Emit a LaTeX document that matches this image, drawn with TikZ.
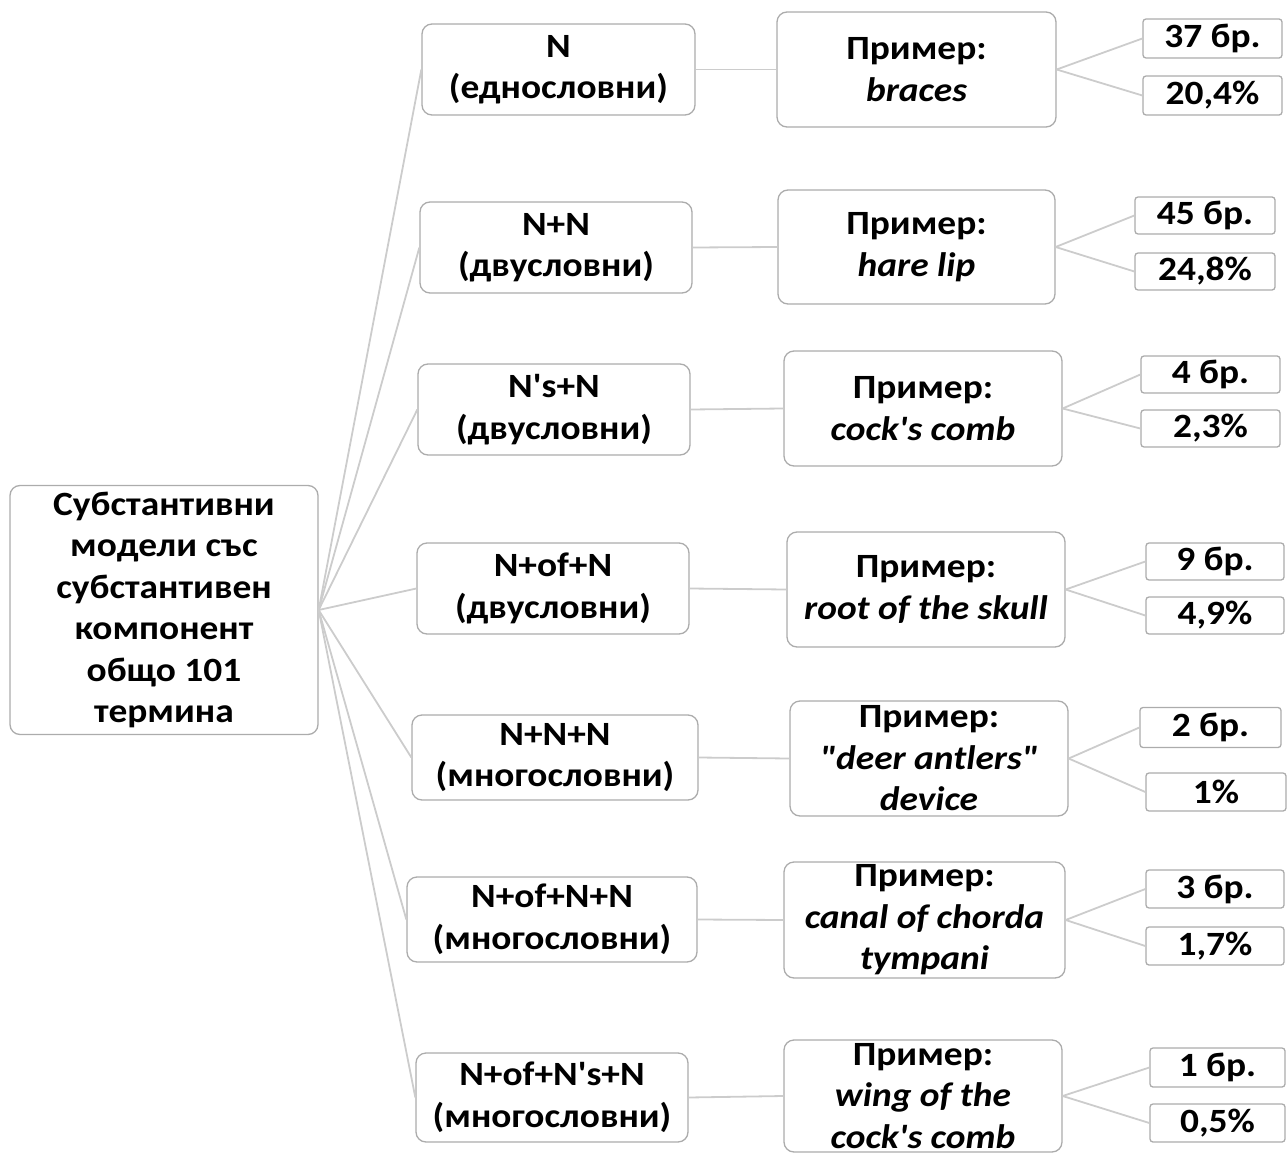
\documentclass[tikz,border=0pt]{standalone}
\usepackage{fontspec}
\setmainfont{Carlito}[Ligatures=TeXOff, FakeStretch=1.1]
\begin{document}
\begin{tikzpicture}[x=1pt,y=-1pt,
  every node/.style={font=\bfseries\fontsize{34}{41.5}\selectfont, align=center, inner sep=0pt, text=black},
  bigbox/.style={draw=gray!65, line width=1.3pt, rounded corners=10pt, fill=white},
  numbox/.style={draw=gray!65, line width=1.3pt, rounded corners=3pt, fill=white},
  link/.style={draw=gray!40, line width=1.8pt}]
\useasboundingbox (0,0) rectangle (1288,1153);
\begin{scope}
\clip (0,0) rectangle (1288,1153);
% root
\node[bigbox, minimum width=308pt, minimum height=249pt] (root) at (164,610) {Субстантивни\\модели със\\субстантивен\\компонент\\общо 101\\термина};
% level 1
\node[bigbox, minimum width=273pt, minimum height=91pt] (a1) at (558.5,69.5) {N\\(еднословни)};
\node[bigbox, minimum width=272pt, minimum height=91pt] (a2) at (556,247.5) {N+N\\(двусловни)};
\node[bigbox, minimum width=272pt, minimum height=91pt] (a3) at (554,409.5) {N's+N\\(двусловни)};
\node[bigbox, minimum width=272pt, minimum height=91pt] (a4) at (553,588.5) {N+of+N\\(двусловни)};
\node[bigbox, minimum width=286pt, minimum height=85pt] (a5) at (555,757.5) {N+N+N\\(многословни)};
\node[bigbox, minimum width=290pt, minimum height=85pt] (a6) at (552,919.5) {N+of+N+N\\(многословни)};
\node[bigbox, minimum width=272pt, minimum height=89pt] (a7) at (552,1097.5) {N+of+N's+N\\(многословни)};
% level 2
\node[bigbox, minimum width=279pt, minimum height=115pt] (b1) at (916.5,69.5) {Пример:\\\itshape braces};
\node[bigbox, minimum width=277pt, minimum height=114pt] (b2) at (916.5,247) {Пример:\\\itshape hare lip};
\node[bigbox, minimum width=278pt, minimum height=115pt] (b3) at (923,408.5) {Пример:\\\itshape cock's comb};
\node[bigbox, minimum width=278pt, minimum height=115pt] (b4) at (926,589.5) {Пример:\\\itshape root of the skull};
\node[bigbox, minimum width=278pt, minimum height=115pt] (b5) at (929,758.5) {Пример:\\\itshape "deer antlers"\\\itshape device};
\node[bigbox, minimum width=281pt, minimum height=116pt] (b6) at (924.5,920) {Пример:\\\itshape canal of chorda\\\itshape tympani};
\node[bigbox, minimum width=278pt, minimum height=112pt] (b7) at (923,1096) {Пример:\\\itshape wing of the\\\itshape cock's comb};
% level 3
\node[numbox, minimum width=139pt, minimum height=39pt] (c1a) at (1212.5,38.5) {37 бр.};
\node[numbox, minimum width=139pt, minimum height=39pt] (c1b) at (1212.5,95.5) {20,4\%};
\node[numbox, minimum width=140pt, minimum height=37pt] (c2a) at (1205,215.5) {45 бр.};
\node[numbox, minimum width=140pt, minimum height=37pt] (c2b) at (1205,271.5) {24,8\%};
\node[numbox, minimum width=139pt, minimum height=37pt] (c3a) at (1210.5,374.5) {4 бр.};
\node[numbox, minimum width=139pt, minimum height=37pt] (c3b) at (1210.5,428.5) {2,3\%};
\node[numbox, minimum width=138pt, minimum height=37pt] (c4a) at (1215,561.5) {9 бр.};
\node[numbox, minimum width=138pt, minimum height=37pt] (c4b) at (1215,615.5) {4,9\%};
\node[numbox, minimum width=141pt, minimum height=40pt] (c5a) at (1210.5,727.5) {2 бр.};
\node[numbox, minimum width=140pt, minimum height=38pt] (c5b) at (1216,792) {1\%};
\node[numbox, minimum width=138pt, minimum height=38pt] (c6a) at (1215,889) {3 бр.};
\node[numbox, minimum width=138pt, minimum height=38pt] (c6b) at (1215,946) {1,7\%};
\node[numbox, minimum width=135pt, minimum height=39pt] (c7a) at (1217.5,1067.5) {1 бр.};
\node[numbox, minimum width=135pt, minimum height=38pt] (c7b) at (1217.5,1123) {0,5\%};
% connectors
\foreach \i in {1,...,7}{
  \draw[link] (root.east) -- (a\i.west);
  \draw[link] (a\i.east) -- (b\i.west);
  \draw[link] (b\i.east) -- (c\i a.west);
  \draw[link] (b\i.east) -- (c\i b.west);
}
\end{scope}
\end{tikzpicture}
\end{document}
